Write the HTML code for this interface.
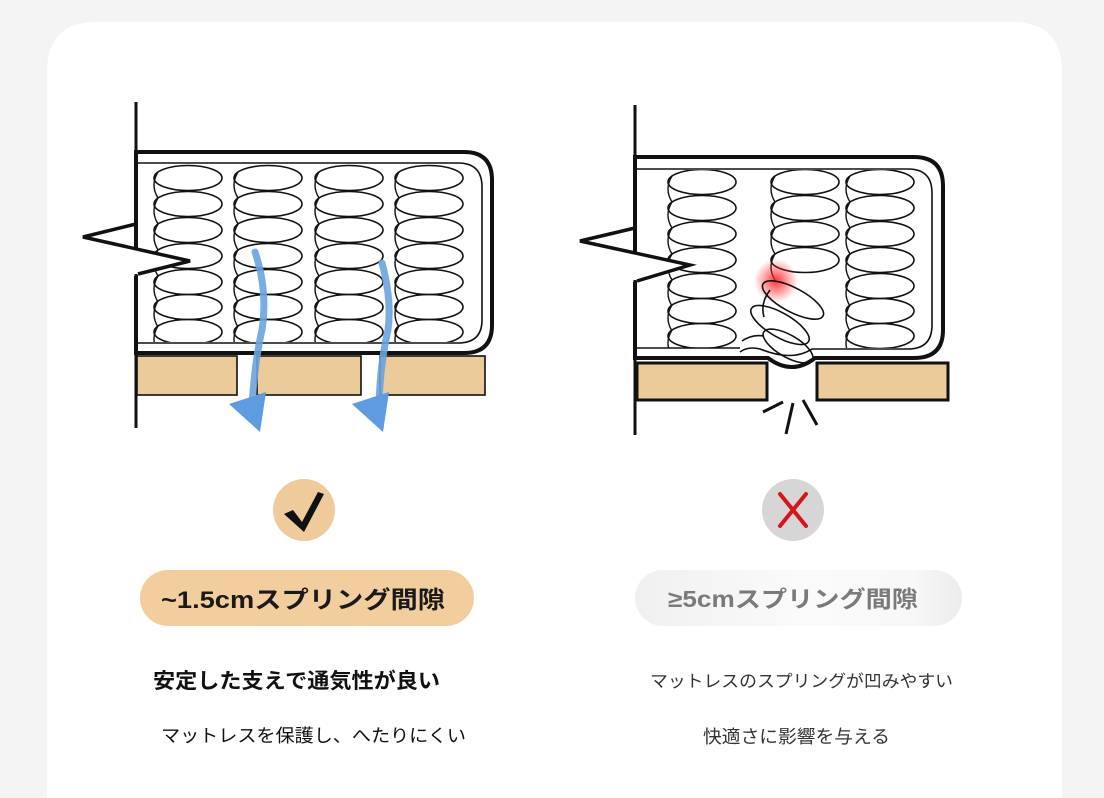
<!DOCTYPE html>
<html><head><meta charset="utf-8"><style>
html,body{margin:0;padding:0;background:#f4f4f4;overflow:hidden;width:1104px;height:798px;}
svg{display:block;}
text{font-family:"Liberation Sans","Noto Sans CJK JP",sans-serif;}
</style></head><body>
<svg width="1104" height="798" viewBox="0 0 1104 798" xmlns="http://www.w3.org/2000/svg">
<defs>
<g id="coil">
<ellipse cx="0" cy="0" rx="34" ry="12.5" fill="none" stroke="#111" stroke-width="1.6"/>
<path d="M-30,-6 Q-38,7 -30,20" fill="none" stroke="#111" stroke-width="1.4"/>
</g>
<g id="col">
<use href="#coil" y="178"/><use href="#coil" y="204"/><use href="#coil" y="230"/><use href="#coil" y="256"/><use href="#coil" y="282"/><use href="#coil" y="307"/><use href="#coil" y="332"/>
</g>
<radialGradient id="red"><stop offset="0" stop-color="#ff2020" stop-opacity="0.9"/><stop offset="1" stop-color="#ff2020" stop-opacity="0"/></radialGradient>
<linearGradient id="gp" x1="0" x2="1"><stop offset="0" stop-color="#f0f0f0"/><stop offset="0.5" stop-color="#fafafa"/><stop offset="0.85" stop-color="#f8f8f8"/><stop offset="1" stop-color="#ececec"/></linearGradient>
</defs>
<path d="M47,798 V72 Q47,22 97,22 H1012 Q1062,22 1062,72 V798 Z" fill="#fff"/>

<!-- LEFT DIAGRAM -->
<path d="M136,152 H464 Q492,152 492,180 V325 Q492,353 464,353 H136 Z" fill="#fff" stroke="#111" stroke-width="4"/>
<path d="M138,163 H458 Q482,163 482,187 V320 Q482,343 458,343 H138" fill="none" stroke="#111" stroke-width="1.6"/>
<clipPath id="c1"><rect x="138" y="164" width="343" height="178"/></clipPath>
<g clip-path="url(#c1)">
<use href="#col" x="188" y="0"/><use href="#col" x="268" y="0"/><use href="#col" x="349" y="0"/><use href="#col" x="429" y="0"/>
</g>
<path d="M134,224 L83,237 L190,261 L134,276 Z" fill="#fff" stroke="none"/>
<path d="M136,224 L83,237 L190,261 L138,274" fill="none" stroke="#111" stroke-width="3.5" stroke-linejoin="miter"/>
<line x1="136" y1="102" x2="136" y2="225" stroke="#111" stroke-width="3"/>
<line x1="136" y1="274" x2="136" y2="428" stroke="#111" stroke-width="3"/>
<g fill="#EBCB9A" stroke="#111" stroke-width="1.6">
<rect x="137" y="356" width="100" height="39"/>
<rect x="257" y="356" width="104" height="39"/>
<rect x="380" y="356" width="105" height="39"/>
</g>
<g fill="none" stroke="#6aa3e0" stroke-linecap="round">
<path d="M255,252 Q268,290 262,330 Q255,360 252,405" stroke-width="7" opacity="0.9"/>
<path d="M382,263 Q392,300 388,330 Q380,365 379,405" stroke-width="7" opacity="0.9"/>
</g>
<path d="M229,404 L260,432 L266,392 Z" fill="#5f9be0"/>
<path d="M352,404 L383,432 L389,392 Z" fill="#5f9be0"/>

<!-- RIGHT DIAGRAM -->
<path d="M635,157 H914 Q943,157 943,186 V330 Q943,358 914,358 H815 Q792,376 768,358 H635 Z" fill="#fff" stroke="#111" stroke-width="4"/>
<path d="M637,169 H908 Q932,169 932,193 V325 Q932,349 908,349 H812 Q792,362 760,349 Q748,346 740,352 M637,348 H740" fill="none" stroke="#111" stroke-width="1.6"/>
<clipPath id="c2"><rect x="637" y="170" width="294" height="178"/></clipPath>
<g clip-path="url(#c2)">
<use href="#col" x="702" y="4"/><use href="#col" x="880" y="4"/>
<use href="#coil" x="805" y="182"/><use href="#coil" x="805" y="208"/><use href="#coil" x="805" y="234"/><use href="#coil" x="805" y="260"/>
</g>
<circle cx="776" cy="281" r="22" fill="url(#red)"/>
<g fill="none" stroke="#111" stroke-width="1.6">
<ellipse cx="793" cy="300" rx="34" ry="12" transform="rotate(28 793 300)"/>
<ellipse cx="780" cy="325" rx="33" ry="12" transform="rotate(30 780 325)"/>
<ellipse cx="788" cy="346" rx="28" ry="11" transform="rotate(30 788 346)"/>
<path d="M770,290 Q760,303 764,317"/>
<path d="M742,341 Q752,334 764,336"/>
</g>
<path d="M633,228 L580,241 L690,265 L633,282 Z" fill="#fff"/>
<path d="M635,228 L580,241 L690,265 L637,281" fill="none" stroke="#111" stroke-width="3.5"/>
<line x1="635" y1="105" x2="635" y2="229" stroke="#111" stroke-width="3"/>
<line x1="635" y1="280" x2="635" y2="435" stroke="#111" stroke-width="3"/>
<g fill="#EBCB9A" stroke="#111" stroke-width="3">
<rect x="637" y="363" width="130" height="37"/>
<rect x="817" y="363" width="131" height="37"/>
</g>
<g stroke="#111" stroke-width="3">
<line x1="763" y1="412" x2="783" y2="402"/>
<line x1="793" y1="403" x2="786" y2="434"/>
<line x1="803" y1="400" x2="817" y2="425"/>
</g>

<!-- markers -->
<circle cx="304" cy="510" r="31" fill="#EFCB9B"/>
<path d="M284,514 L293,510 L302,522 L318,492 L324,494 L304,532 Z" fill="#111"/>
<circle cx="793" cy="510" r="31" fill="#d6d6d6"/>
<g stroke="#d8141b" stroke-width="4" stroke-linecap="round"><line x1="780" y1="494" x2="806" y2="526"/><line x1="806" y1="494" x2="780" y2="526"/></g>

<!-- pills -->
<rect x="140" y="570" width="334" height="56" rx="28" fill="#F2CD9D"/>
<text x="161" y="608" font-size="24" font-weight="bold" fill="#1a1a1a" textLength="284" lengthAdjust="spacingAndGlyphs">~1.5cmスプリング間隙</text>
<rect x="635" y="570" width="327" height="56" rx="28" fill="url(#gp)"/>
<text x="668" y="607" font-size="23" font-weight="bold" fill="#7a7a7a" textLength="250" lengthAdjust="spacingAndGlyphs">≥5cmスプリング間隙</text>

<!-- texts -->
<text x="153" y="688" font-size="21" fill="#111" font-weight="bold" textLength="287" lengthAdjust="spacingAndGlyphs">安定した支えで通気性が良い</text>
<text x="161" y="742" font-size="18" fill="#111" textLength="305" lengthAdjust="spacingAndGlyphs">マットレスを保護し、へたりにくい</text>
<text x="650" y="687" font-size="17" fill="#333" textLength="303" lengthAdjust="spacingAndGlyphs">マットレスのスプリングが凹みやすい</text>
<text x="703" y="743" font-size="18" fill="#333" textLength="187" lengthAdjust="spacingAndGlyphs">快適さに影響を与える</text>
</svg>
</body></html>
